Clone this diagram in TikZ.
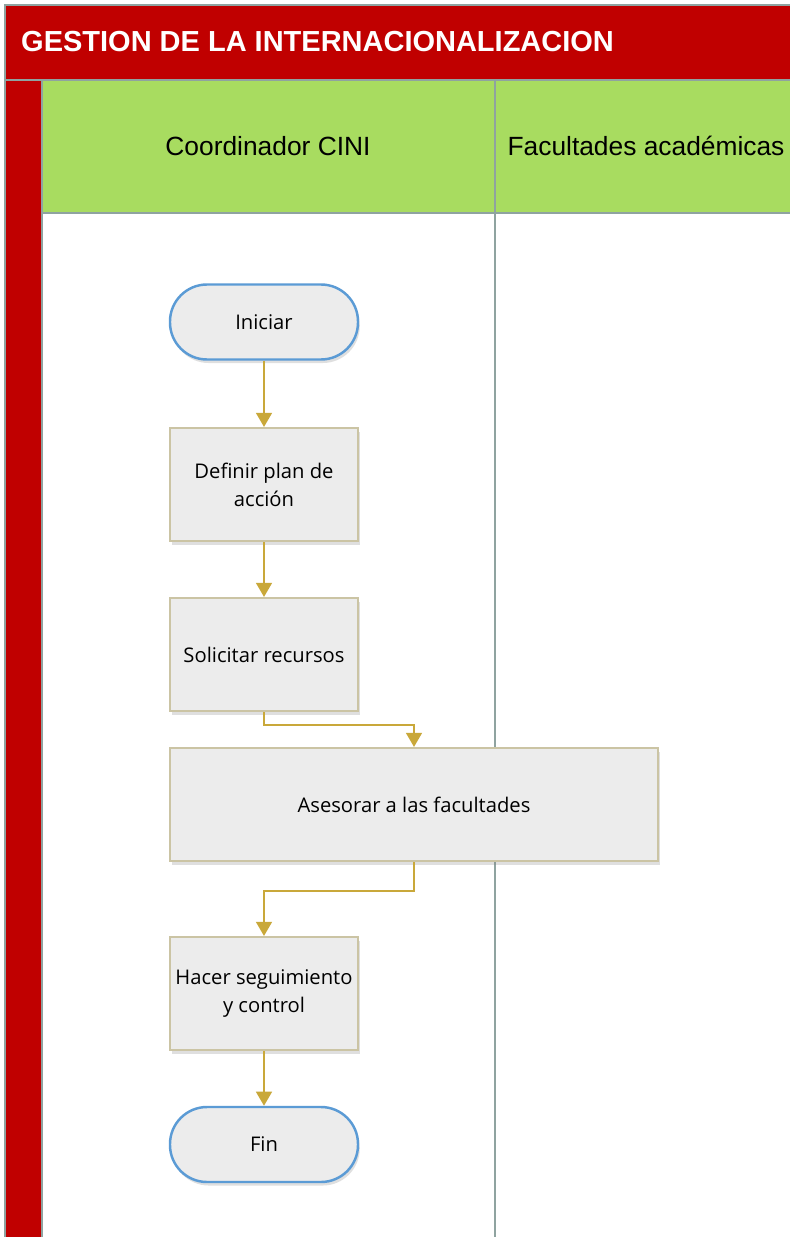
\documentclass[tikz,border=0pt]{standalone}
\usepackage{fontspec}
\setmainfont{Open Sans}
\newfontfamily\headfont{Liberation Sans}
\usetikzlibrary{shadows,arrows.meta}
\definecolor{poolred}{HTML}{C00000}
\definecolor{lanegreen}{HTML}{A8DC60}
\definecolor{lanegray}{HTML}{8FA3A0}
\definecolor{boxfill}{HTML}{ECECEC}
\definecolor{boxedge}{HTML}{CBC4A4}
\definecolor{termedge}{HTML}{5B9BD5}
\definecolor{flowgold}{HTML}{C9A83A}

\tikzset{
  task/.style={draw=boxedge, line width=1.2pt, fill=boxfill, minimum width=188*0.02cm,
    minimum height=113*0.02cm, align=center, inner sep=1pt,
    font=\fontsize{11.5}{16}\selectfont, drop shadow={opacity=0.25, shadow xshift=1pt, shadow yshift=-2pt}},
  terminal/.style={draw=termedge, line width=1.4pt, fill=boxfill, rounded corners=37*0.02cm,
    minimum width=188*0.02cm, minimum height=75*0.02cm, font=\fontsize{11.5}{14}\selectfont,
    drop shadow={opacity=0.25, shadow xshift=1pt, shadow yshift=-2pt}},
  flow/.style={draw=flowgold, line width=1.1pt, -{Triangle[length=8pt,width=9pt]}},
}

\begin{document}
\begin{tikzpicture}[x=0.02cm, y=-0.02cm]
\useasboundingbox (0,0) rectangle (790,1237);
% pool and lanes
\fill[white] (0,0) rectangle (790,1237);
\fill[poolred] (5,5) rectangle (790,80);
\fill[poolred] (5,80) rectangle (42,1237);
\fill[lanegreen] (42,80) rectangle (790,213);
\draw[lanegray, line width=1pt] (790,5) -- (5,5) -- (5,1237);
\draw[lanegray, line width=1pt] (5,80) -- (790,80);
\draw[lanegray, line width=1pt] (42,80) -- (42,1237);
\draw[lanegray, line width=1pt] (42,213) -- (790,213);
\draw[lanegray, line width=1.5pt] (495,80) -- (495,1237);
\node[anchor=west, text=white, font=\headfont\bfseries\fontsize{16.5}{20}\selectfont] (title) at (15,42) {GESTION DE LA INTERNACIONALIZACION};
\node[font=\headfont\fontsize{15}{18}\selectfont] (lane1) at (268,146) {Coordinador CINI};
\node[font=\headfont\fontsize{15}{18}\selectfont] (lane2) at (646,146) {Facultades académicas};

% flow steps
\node[terminal] (start) at (264,322) {Iniciar};
\node[task] (plan) at (264,484.5) {Definir plan de\\acción};
\node[task] (rec) at (264,654.5) {Solicitar recursos};
\node[task, minimum width=488*0.02cm] (ases) at (414,804.5) {Asesorar a las facultades};
\node[task] (seg) at (264,993.5) {Hacer seguimiento\\y control};
\node[terminal] (fin) at (264,1144.5) {Fin};

% connectors
\draw[flow] (start) -- (plan);
\draw[flow] (plan) -- (rec);
\draw[flow] (rec.south) -- ++(0,13) -| (ases.north);
\draw[flow] (ases.south) -- ++(0,29) -| (seg.north);
\draw[flow] (seg) -- (fin);
\end{tikzpicture}
\end{document}
